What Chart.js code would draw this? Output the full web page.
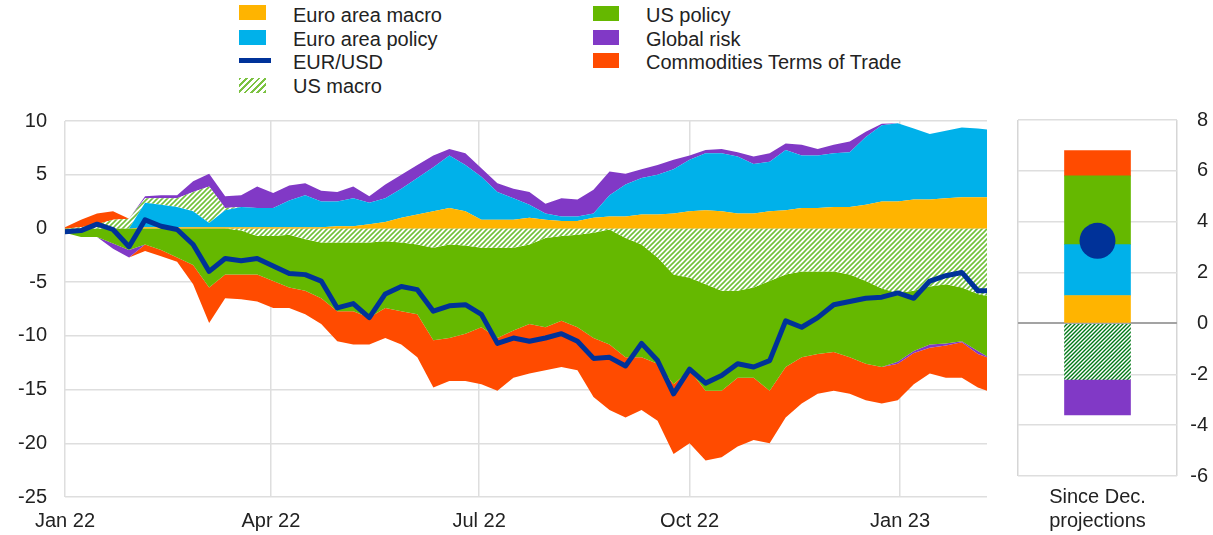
<!DOCTYPE html>
<html>
<head>
<meta charset="utf-8">
<script src="https://cdn.jsdelivr.net/npm/chart.js@4.4.1/dist/chart.umd.min.js"></script>
<style>
  body { margin:0; background:#fff; font-family:'Liberation Sans', Arial, sans-serif; }
  #wrap { position:relative; width:1213px; height:535px; overflow:hidden; }
  .lg { position:absolute; font-size:20px; line-height:24px; color:#222; white-space:nowrap; }
  .sw { position:absolute; }
  #main { position:absolute; left:0; top:91px; }
  #side { position:absolute; left:1000px; top:91px; }
</style>
</head>
<body>
<div id="wrap">
  <div class="sw" style="left:239px;top:5px;width:27px;height:15px;background:#ffb400"></div>
  <div class="lg" style="left:293px;top:3px">Euro area macro</div>
  <div class="sw" style="left:239px;top:30px;width:27px;height:15px;background:#00b1ea"></div>
  <div class="lg" style="left:293px;top:27px">Euro area policy</div>
  <div class="sw" style="left:239px;top:58px;width:32px;height:5px;background:#003299"></div>
  <div class="lg" style="left:293px;top:50px">EUR/USD</div>
  <div class="sw" style="left:239px;top:78px;width:27px;height:15px;background:repeating-linear-gradient(135deg,#7cc242 0 2px,#fff 2px 4.5px)"></div>
  <div class="lg" style="left:293px;top:74px">US macro</div>

  <div class="sw" style="left:593px;top:6px;width:26px;height:15px;background:#65b800"></div>
  <div class="lg" style="left:646px;top:3px">US policy</div>
  <div class="sw" style="left:593px;top:30px;width:26px;height:15px;background:#8139c6"></div>
  <div class="lg" style="left:646px;top:27px">Global risk</div>
  <div class="sw" style="left:593px;top:53px;width:26px;height:15px;background:#ff4b00"></div>
  <div class="lg" style="left:646px;top:50px">Commodities Terms of Trade</div>

  <canvas id="main" width="1000" height="444"></canvas>
  <canvas id="side" width="213" height="444"></canvas>
</div>
<script>
// weekly observations, Jan 2022 - Feb 2023
const dates = [
  '2022-01-01','2022-01-08','2022-01-15','2022-01-22','2022-01-29',
  '2022-02-05','2022-02-12','2022-02-19','2022-02-26',
  '2022-03-05','2022-03-12','2022-03-19','2022-03-26',
  '2022-04-02','2022-04-09','2022-04-16','2022-04-23','2022-04-30',
  '2022-05-07','2022-05-14','2022-05-21','2022-05-28',
  '2022-06-04','2022-06-11','2022-06-18','2022-06-25',
  '2022-07-02','2022-07-09','2022-07-16','2022-07-23','2022-07-30',
  '2022-08-06','2022-08-13','2022-08-20','2022-08-27',
  '2022-09-03','2022-09-10','2022-09-17','2022-09-24',
  '2022-10-01','2022-10-08','2022-10-15','2022-10-22','2022-10-29',
  '2022-11-05','2022-11-12','2022-11-19','2022-11-26',
  '2022-12-03','2022-12-10','2022-12-17','2022-12-24','2022-12-31',
  '2023-01-07','2023-01-14','2023-01-21','2023-01-28',
  '2023-02-04','2023-02-08'
];

const euroMacro  = [0,0,0,0,0, 0.1,0.1,0.1,0.1, 0.1,0.1,0.1,0.1, 0.1,0.1,0.1,0.1,0.2, 0.2,0.4,0.6,1.0, 1.3,1.6,1.9,1.6,
  0.8,0.8,0.8,1.0,0.8, 0.7,0.7,1.0,1.1, 1.1,1.3,1.3,1.4, 1.6,1.7,1.6,1.4,1.4, 1.6,1.7,1.9,1.9,
  2.0,2.0,2.2,2.5,2.5, 2.7,2.7,2.8,2.9, 2.9,2.9];
const euroPolicy = [0,0,0,0,0, 2.3,2.1,1.9,1.5, 0.4,1.6,1.9,1.8, 1.8,2.5,3.0,2.4,2.3, 2.6,2.0,2.2,2.7, 3.4,4.1,4.9,4.3,
  4.0,2.6,2.0,1.2,0.6, 0.4,0.4,0.4,2.0, 3.0,3.4,3.7,4.1, 4.8,5.3,5.4,5.3,4.6, 4.6,5.6,4.9,4.9,
  5.0,5.1,6.3,7.1,7.3, 6.6,6.1,6.3,6.5, 6.4,6.3];
const usMacro    = [0,0.1,0.4,0.8,0.9, 0.4,0.6,0.8,1.8, 3.4,0.2,-0.2,-0.7, -0.7,-0.6,-1.0,-1.3,-1.3, -1.3,-1.3,-1.2,-1.3, -1.5,-1.8,-1.5,-1.6,
  -1.8,-1.8,-1.8,-1.5,-0.9, -0.7,-0.6,-0.4,-0.1, -0.9,-1.5,-2.7,-4.3, -4.6,-5.2,-5.8,-5.8,-5.5, -4.9,-4.3,-4.0,-4.0,
  -4.0,-4.3,-4.9,-5.6,-6.0, -5.8,-5.4,-5.2,-5.5, -6.1,-6.3];
const usPolicy   = [-0.4,-0.8,-0.8,-1.4,-2.0, -1.5,-2.0,-2.7,-3.4, -5.5,-4.3,-4.1,-3.6, -4.2,-4.9,-4.8,-5.2,-6.4, -6.4,-7.0,-6.2,-6.4, -6.5,-8.6,-8.7,-8.2,
  -7.4,-8.4,-7.7,-7.4,-8.3, -7.9,-8.6,-9.8,-10.7, -11.1,-10.5,-9.9,-10.2, -8.6,-9.9,-9.3,-8.1,-8.4, -10.2,-8.6,-8.0,-7.7,
  -7.5,-7.7,-7.7,-7.3,-6.4, -5.6,-5.4,-5.5,-5.0, -5.3,-5.6];
const globalRisk = [0,0,0,-0.5,-0.7, 0.2,0.3,0.3,1.0, 1.2,1.1,1.1,2.0, 1.4,1.4,1.1,1.0,0.9, 1.1,0.6,1.3,1.3, 1.2,1.1,0.6,1.1,
  0.8,0.8,0.9,1.2,0.9, 1.7,1.6,2.2,2.2, 1.0,0.8,0.9,0.9, 0.4,0.3,0.4,0.4,0.7, 0.8,0.6,1.0,0.6,
  0.8,1.0,0.5,0.15,-0.2, -0.2,-0.3,-0.2,-0.1, -0.3,-0.1];
const commodities = [0.1,0.7,1.0,0.8,0, -0.6,-0.6,-0.4,-1.8, -3.3,-2.2,-2.3,-2.5, -2.5,-1.9,-2.2,-2.4,-2.8, -3.1,-2.5,-2.8,-3.1, -4.0,-4.4,-4.0,-4.4,
  -5.3,-4.9,-4.4,-4.6,-4.0, -4.3,-4.0,-5.5,-6.1, -5.6,-4.9,-5.3,-6.5, -6.8,-6.5,-6.2,-6.4,-5.8, -4.9,-4.7,-4.3,-3.7,
  -3.6,-3.4,-3.4,-3.4,-3.4, -2.9,-2.4,-3.0,-3.3, -3.1,-3.1];
const eurUsd = [-0.3,-0.2,0.4,-0.1,-1.7, 0.8,0.2,-0.1,-1.5, -4.0,-2.8,-3.0,-2.8, -3.5,-4.2,-4.3,-4.9,-7.4, -7.0,-8.3,-6.1,-5.4, -5.7,-7.7,-7.2,-7.1,
  -8.0,-10.7,-10.2,-10.5,-10.2, -9.8,-10.5,-12.1,-12.0, -12.8,-10.7,-12.3,-15.4, -13.1,-14.4,-13.7,-12.6,-12.9, -12.3,-8.6,-9.2,-8.3,
  -7.1,-6.8,-6.5,-6.4,-6.0, -6.5,-4.9,-4.4,-4.1, -5.8,-5.8];

const tickDates  = ['2022-01-01','2022-04-01','2022-07-01','2022-10-01','2023-01-01'];
const tickLabels = ['Jan 22','Apr 22','Jul 22','Oct 22','Jan 23'];
const endDate = '2023-02-08';

// right panel: change since December projections
const sideLabels = [['Since Dec.', 'projections']];
const sideValues = [1.1, 2.0, -2.2, 2.7, -1.4, 1.0];   // same order as the series
const sideEurUsd = [3.25];

const font = { family: "'Liberation Sans', Arial, sans-serif", size: 20 };
const txt = '#222';
const gridCol = '#dedede';

function toDay(d) { return (Date.parse(d) - Date.parse('2022-01-01')) / 86400000; }

function hatch(color, size, lw) {
  const c = document.createElement('canvas');
  c.width = size; c.height = size;
  const g = c.getContext('2d');
  g.fillStyle = '#fff'; g.fillRect(0, 0, size, size);
  g.strokeStyle = color; g.lineWidth = lw;
  g.beginPath();
  g.moveTo(0, size); g.lineTo(size, 0);
  g.moveTo(-size, size); g.lineTo(size, -size);
  g.moveTo(0, size * 2); g.lineTo(size * 2, 0);
  g.stroke();
  return g.createPattern(c, 'repeat');
}

const series = [
  { label:'Euro area macro', data:euroMacro, fill:'#ffb400', side:'#ffb400' },
  { label:'Euro area policy', data:euroPolicy, fill:'#00b1ea', side:'#00b1ea' },
  { label:'US macro', data:usMacro, fill:hatch('#72c13a', 5, 1.6), side:hatch('#007816', 4, 1.4) },
  { label:'US policy', data:usPolicy, fill:'#65b800', side:'#65b800' },
  { label:'Global risk', data:globalRisk, fill:'#8139c6', side:'#8139c6' },
  { label:'Commodities Terms of Trade', data:commodities, fill:'#ff4b00', side:'#ff4b00' }
];

const xs = dates.map(toDay);
const tickDays = tickDates.map(toDay);

// positive and negative parts are stacked separately, like the original
const mainSets = [];
['pos', 'neg'].forEach(part => {
  series.forEach((s, k) => {
    mainSets.push({
      type: 'line', label: s.label, stack: part,
      data: s.data.map((v, i) => ({ x: xs[i], y: part === 'pos' ? Math.max(v, 0) : Math.min(v, 0) })),
      backgroundColor: s.fill, borderWidth: 0, pointRadius: 0, tension: 0,
      fill: k === 0 ? 'origin' : '-1'
    });
  });
});
mainSets.push({
  type: 'line', label: 'EUR/USD', stack: 'fx', order: -1,
  data: eurUsd.map((v, i) => ({ x: xs[i], y: v })),
  borderColor: '#003299', borderWidth: 5, pointRadius: 0, tension: 0, fill: false,
  borderJoinStyle: 'round', borderCapStyle: 'round'
});

new Chart(document.getElementById('main'), {
  type: 'line',
  data: { datasets: mainSets },
  options: {
    responsive: false, animation: false,
    layout: { padding: { top: 0, right: 13, left: 0, bottom: 0 } },
    plugins: { legend: { display: false }, tooltip: { enabled: false } },
    scales: {
      x: {
        type: 'linear', min: 0, max: toDay(endDate),
        afterBuildTicks: s => { s.ticks = tickDays.map(v => ({ value: v })); },
        afterFit: s => { s.height = 38; },
        ticks: { callback: (v, i) => tickLabels[i], autoSkip: false, maxRotation: 0, padding: 12, font, color: txt },
        grid: { color: gridCol, lineWidth: 1.5, drawTicks: false },
        border: { display: false }
      },
      y: {
        stacked: true, min: -25, max: 10,
        afterFit: s => { s.width = 65; },
        ticks: { stepSize: 5, padding: 18, font, color: txt },
        grid: { color: gridCol, lineWidth: 1.5, drawTicks: false },
        border: { display: false }
      }
    }
  }
});

const sideSets = series.map((s, k) => ({
  type: 'bar', label: s.label, data: [sideValues[k]], backgroundColor: s.side,
  barThickness: 66, stack: 'side', borderWidth: 0
}));
sideSets.push({
  type: 'line', label: 'EUR/USD', data: sideEurUsd, stack: 'dot', order: -1, showLine: false,
  pointRadius: 18, pointBackgroundColor: '#003299', pointBorderWidth: 0
});

new Chart(document.getElementById('side'), {
  type: 'bar',
  data: { labels: sideLabels, datasets: sideSets },
  options: {
    responsive: false, animation: false,
    layout: { padding: { top: 0, right: 5, left: 13, bottom: 0 } },
    plugins: { legend: { display: false }, tooltip: { enabled: false } },
    scales: {
      x: {
        stacked: true,
        afterFit: s => { s.height = 59; },
        ticks: { padding: 9, font, color: txt },
        grid: { offset: true, color: '#d6d6d6', lineWidth: 1.5, drawTicks: false },
        border: { display: false }
      },
      y: {
        position: 'right', stacked: true, min: -6, max: 8,
        afterFit: s => { s.width = 31; },
        ticks: { stepSize: 2, crossAlign: 'far', padding: 17, font, color: txt },
        grid: {
          color: c => c.tick.value === 0 ? '#a3a3a3' : gridCol,
          lineWidth: c => c.tick.value === 0 ? 2 : 1.5,
          drawTicks: false
        },
        border: { display: false }
      }
    }
  }
});
</script>
</body>
</html>
